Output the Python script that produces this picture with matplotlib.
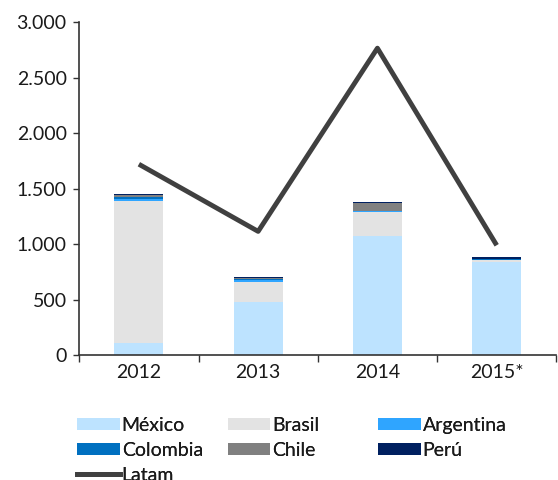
import matplotlib
matplotlib.use("Agg")
import matplotlib.pyplot as plt
from matplotlib.patches import Patch
from matplotlib.lines import Line2D
from matplotlib.ticker import FuncFormatter, FixedLocator

plt.rcParams["font.family"] = ["Lato", "DejaVu Sans"]

years = ["2012", "2013", "2014", "2015*"]
mexico = [110, 480, 1075, 840]
brasil = [1280, 180, 215, 15]
argentina = [20, 15, 5, 5]
colombia = [15, 10, 5, 10]
chile = [15, 10, 70, 0]
peru = [15, 10, 10, 10]
latam = [1720, 1115, 2765, 990]

series = [("México", mexico, "#BDE3FF"), ("Brasil", brasil, "#E3E3E3"),
          ("Argentina", argentina, "#2FA5FF"), ("Colombia", colombia, "#0070C0"),
          ("Chile", chile, "#808080"), ("Perú", peru, "#002060")]

fig = plt.figure(figsize=(5.58, 4.8), dpi=100)
ax = fig.add_axes([0.142, 0.26, 0.855, 0.694])

x = list(range(len(years)))
bottom = [0] * len(years)
handles = {}
for name, vals, col in series:
    ax.bar(x, vals, 0.41, bottom=bottom, color=col, linewidth=0, zorder=2)
    bottom = [b + v for b, v in zip(bottom, vals)]
    handles[name] = Patch(facecolor=col, edgecolor="none")
ax.plot(x, latam, color="#404040", lw=3.5, zorder=3, solid_capstyle="butt")
handles["Latam"] = Line2D([], [], color="#404040", lw=3.5)

ax.set_xlim(-0.5, 3.5)
ax.set_ylim(0, 3000)
ax.set_yticks(range(0, 3001, 500))
ax.yaxis.set_major_formatter(FuncFormatter(lambda v, p: f"{int(v):,}".replace(",", ".")))
ax.set_xticks(x)
ax.set_xticklabels(years)
ax.xaxis.set_minor_locator(FixedLocator([-0.5, 0.5, 1.5, 2.5, 3.5]))
ax.tick_params(axis="x", which="major", length=0, pad=6, labelsize=14, labelcolor="#1a1a1a")
ax.tick_params(axis="x", which="minor", length=5, width=1, color="#333333")
ax.tick_params(axis="y", length=4, width=1, labelsize=14, labelcolor="#1a1a1a",
               color="#333333", pad=5)
for s in ("top", "right"):
    ax.spines[s].set_visible(False)
for s in ("left", "bottom"):
    ax.spines[s].set_color("#333333")
    ax.spines[s].set_linewidth(1.2)

cols = [["México", "Colombia", "Latam"], ["Brasil", "Chile"], ["Argentina", "Perú"]]
xpos = [0.138, 0.408, 0.677]
for names, xp in zip(cols, xpos):
    leg = fig.legend([handles[n] for n in names], names, loc="upper left",
                     bbox_to_anchor=(xp, 0.132), frameon=False, fontsize=14,
                     handlelength=2.2, handleheight=0.6, handletextpad=0.1,
                     labelspacing=0.42, borderaxespad=0, borderpad=0,
                     labelcolor="#1a1a1a")
    fig.add_artist(leg)

fig.savefig("out.png", dpi=100)
